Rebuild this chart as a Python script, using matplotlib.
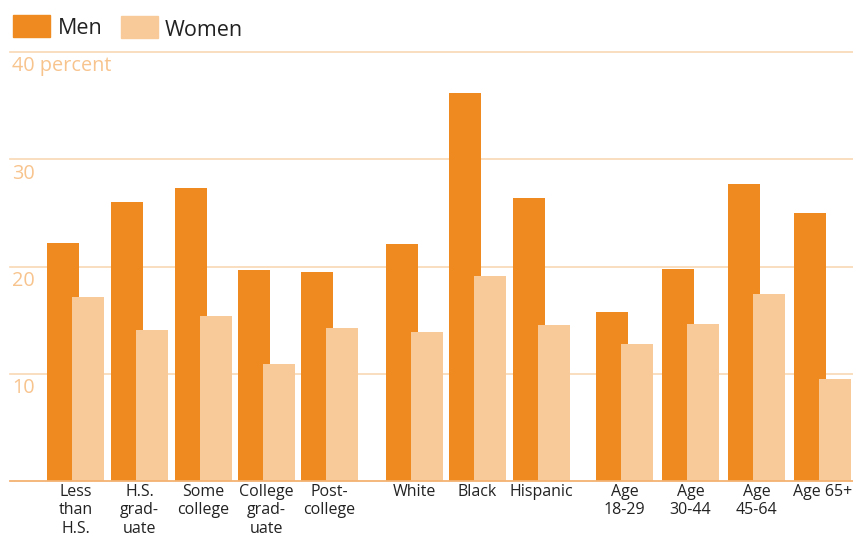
import matplotlib
matplotlib.use("Agg")
import matplotlib.pyplot as plt
from matplotlib.patches import Rectangle
from matplotlib.transforms import blended_transform_factory

plt.rcParams['font.family'] = ['Open Sans', 'DejaVu Sans']

categories = ["Less\nthan\nH.S.", "H.S.\ngrad-\nuate", "Some\ncollege", "College\ngrad-\nuate",
              "Post-\ncollege", "White", "Black", "Hispanic",
              "Age\n18-29", "Age\n30-44", "Age\n45-64", "Age 65+"]
men = [22.2, 26.0, 27.3, 19.7, 19.5, 22.1, 36.2, 26.4, 15.8, 19.8, 27.7, 25.0]
women = [17.2, 14.1, 15.4, 10.9, 14.3, 13.9, 19.1, 14.5, 12.8, 14.6, 17.4, 9.5]
yticks = [10, 20, 30, 40]
ytick_labels = ["10", "20", "30", "40 percent"]

# layout: left edge of each men bar (in units of ~64 px)
xpos = [0, 1, 2, 2.98, 3.97, 5.30, 6.28, 7.28, 8.58, 9.61, 10.64, 11.67]
bw = 0.5
off = 0.39

MEN_C = '#EE8A1F'
WOMEN_C = '#F8CA9A'
GRID_C = '#FAD8B4'
LABEL_C = '#F8C48E'

W, H = 854, 536
fig = plt.figure(figsize=(W / 100, H / 100), dpi=100)
ax = fig.add_axes([10 / W, 1 - 481 / H, 844 / W, (481 - 52) / H])
ax.set_xlim(-37 / 64, (854 - 47) / 64)
ax.set_ylim(0, 40)

for y in yticks:
    ax.axhline(y, color=GRID_C, lw=1.2, zorder=1, clip_on=False)
ax.axhline(0, color='#F3B272', lw=1.3, zorder=4, clip_on=False)

ax.bar([x + bw / 2 for x in xpos], men, width=bw, color=MEN_C, zorder=2)
ax.bar([x + off + bw / 2 for x in xpos], women, width=bw, color=WOMEN_C, zorder=3)

for sp in ax.spines.values():
    sp.set_visible(False)
ax.set_yticks([])
ax.set_xticks([x + (off + bw) / 2 for x in xpos])
ax.set_xticklabels(categories, fontsize=11.5, color='#222222', linespacing=1.2)
ax.tick_params(axis='x', length=0, pad=2)

tr = blended_transform_factory(fig.transFigure, ax.transData)
for y, lab in zip(yticks, ytick_labels):
    ax.text(12 / W, y - 0.4, lab, transform=tr, ha='left', va='top', fontsize=14.3,
            color=LABEL_C)

# legend
fig.patches.append(Rectangle((13 / W, 1 - 37 / H), 37 / W, 22 / H, transform=fig.transFigure,
                             color=MEN_C))
fig.text(58 / W, 1 - 29 / H, "Men", fontsize=15.5, color='#222222', va='center', ha='left')
fig.patches.append(Rectangle((121 / W, 1 - 38 / H), 37 / W, 22 / H, transform=fig.transFigure,
                             color=WOMEN_C))
fig.text(165 / W, 1 - 30 / H, "Women", fontsize=15.5, color='#222222', va='center', ha='left')

fig.savefig("out.png", dpi=100)
